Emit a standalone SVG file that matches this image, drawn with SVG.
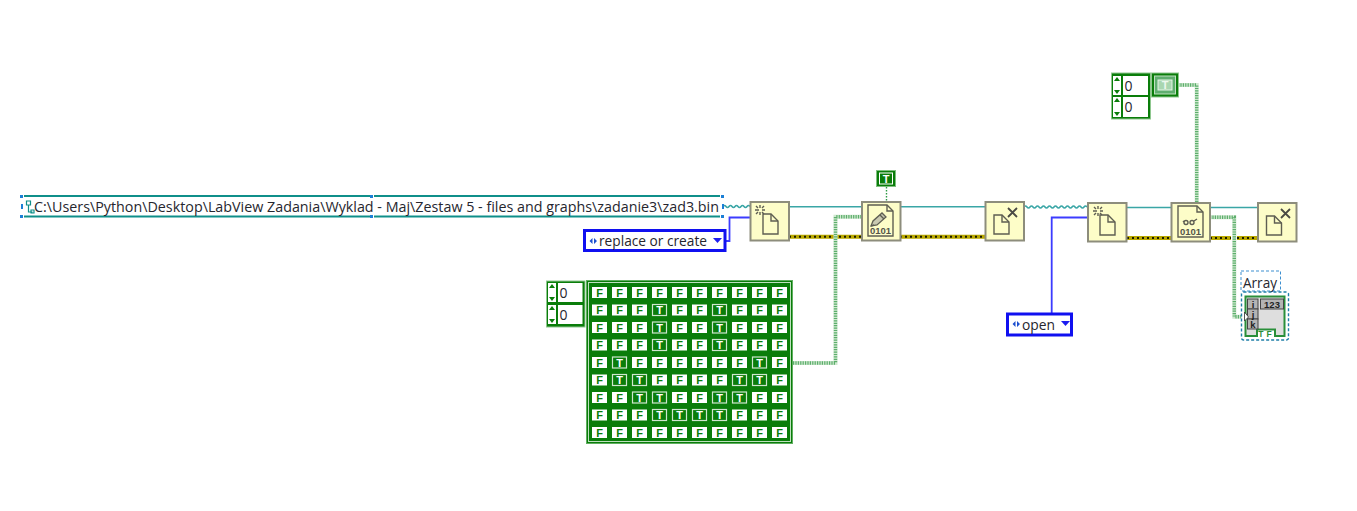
<svg xmlns="http://www.w3.org/2000/svg" width="1357" height="511" viewBox="0 0 1357 511">
<style>
.lbl{font-family:"Open Sans","Noto Sans","Liberation Sans",sans-serif;fill:#26262e}
.cell{font-family:"Liberation Sans",Arial,sans-serif;font-weight:700;font-size:11px;text-anchor:middle}
.f rect{fill:#fff}.f text{fill:#0a7d0a}
.t rect{fill:#0a7d0a;stroke:#cfe6cf;stroke-width:1.2}.t text{fill:#fff}
.fn{fill:#fdfdc8;stroke:#8d8d7c;stroke-width:2}
.ic{fill:none;stroke:#5e5e52;stroke-width:1.4}
.icf{fill:#fdfdc8;stroke:#5e5e52;stroke-width:1.4}
.bit{font-family:"Liberation Sans",Arial,sans-serif;font-size:9.500px;font-weight:700;fill:#55554a;text-anchor:middle}
.g1{fill:none;stroke:#cfe8cf;stroke-width:4}
.g2{fill:none;stroke:#5cae6c;stroke-width:3.4;stroke-dasharray:1.2 1.2}
.er1{fill:none;stroke:#b9a800;stroke-width:4}
.er2{fill:none;stroke:#1a1a00;stroke-width:2;stroke-dasharray:2 3}
.teal{fill:none;stroke:#3aa6a6;stroke-width:1.6}
.blue{fill:none;stroke:#3c3cff;stroke-width:1.8}
.arr{fill:#0a7d0a}
</style>
<g id="connectors">
<path class="teal" d="M723 206.500q1.500-2 3 0t3 0t3 0t3 0t3 0t3 0t3 0t3 0t3 0"/>
<path class="teal" d="M789 206.700H862M900 206.700H985"/>
<path class="teal" d="M1024 207q1.500-2 3 0t3 0t3 0t3 0t3 0t3 0t3 0t3 0t3 0t3 0t3 0t3 0t3 0t3 0t3 0t3 0t3 0t3 0t3 0t3 0t3 0"/>
<path class="teal" d="M1127 207.500H1171M1210 207.500H1258"/>
<path class="blue" d="M726 241H729.500V217.500H750"/>
<path class="blue" d="M1051.700 313V217.500H1088"/>
<path class="er1" d="M789 236.700H862M900 236.700H985"/>
<path class="er2" d="M789 236.700H862M900 236.700H985"/>
<path class="er1" d="M1127 238H1171M1210 238H1231M1237 238H1258"/>
<path class="er2" d="M1127 238H1171M1210 238H1231M1237 238H1258"/>
<path class="g1" d="M793 363H835.500V216.700H862"/>
<path class="g2" d="M793 363H835.500V216.700H862"/>
<path class="g1" d="M1178 85H1196.700V203"/>
<path class="g2" d="M1178 85H1196.700V203"/>
<path class="g1" d="M1210 217.300H1234.300V316.700H1246"/>
<path class="g2" d="M1210 217.300H1234.300V316.700H1246"/>
<path d="M886.500 187V202" fill="none" stroke="#2f9a45" stroke-width="1.400" stroke-dasharray="1.500 1.500"/>
</g>
<g id="path-constant">
<rect x="22" y="195" width="700" height="22.500" fill="#fff"/>
<path d="M24 196H370M374 196H720M24 216.500H370M374 216.500H720" fill="none" stroke="#0f8f8a" stroke-width="2"/>
<g fill="#1c7fd6"><rect x="20" y="195" width="3" height="3"/><rect x="20" y="215" width="3" height="3"/><rect x="370" y="195" width="3" height="3"/><rect x="370" y="215" width="3" height="3"/><rect x="721" y="195" width="3" height="3"/><rect x="721" y="215" width="3" height="3"/><rect x="21" y="204" width="2" height="5"/><rect x="722" y="204" width="2" height="5"/></g>
<path d="M26.500 201h4v4h-4zM28.500 205v7h4M31 210h3v3h-3z" fill="none" stroke="#0f8f8a" stroke-width="1.200"/>
<text class="lbl" x="34" y="212" font-size="14" textLength="685" lengthAdjust="spacingAndGlyphs">C:\Users\Python\Desktop\LabView Zadania\Wyklad - Maj\Zestaw 5 - files and graphs\zadanie3\zad3.bin</text>
</g>
<g id="enum-replace">
<rect x="584.500" y="230.500" width="140.500" height="20" fill="#fff" stroke="#1010f0" stroke-width="3"/>
<path d="M592.500 238v6l-3-3zM594 238v6l3-3z" fill="#1c4fd0"/>
<text class="lbl" x="599" y="246" font-size="14" textLength="108" lengthAdjust="spacingAndGlyphs">replace or create</text>
<path d="M713 238h9l-4.500 5z" fill="#1c1cf0"/>
</g>
<g id="enum-open">
<rect x="1007.500" y="314" width="64" height="21" fill="#fff" stroke="#1010f0" stroke-width="3"/>
<path d="M1015.500 321v6l-3-3zM1017 321v6l3-3z" fill="#1c4fd0"/>
<text class="lbl" x="1022" y="330" font-size="14" textLength="33" lengthAdjust="spacingAndGlyphs">open</text>
<path d="M1061 321h9l-4.500 5z" fill="#1c1cf0"/>
</g>
<g id="open-file-1">
<rect class="fn" x="750.500" y="202" width="38.500" height="38.500"/>
<path class="icf" d="M763 214h8l7 7v13h-15z"/><path class="ic" d="M771 214v7h7"/>
<path class="ic" d="M755 210h4M762 210h3M760 205v3M760 212v3M756 206l2 2M764 206l-2 2M756 214l2-2M764 214l-2-2" stroke-width="1"/>
</g>
<g id="write-file">
<rect class="fn" x="862" y="202" width="38.500" height="38.500"/>
<path class="icf" d="M868 205h19l6 6v25h-25z"/><path class="ic" d="M887 205v6h6"/>
<path d="M871 226l2-5 9-8 4 4-9 8z" fill="#c9c9b0" stroke="#5e5e52" stroke-width="1.300"/><path class="ic" d="M880 215l4 4M871 226l3-1"/>
<text class="bit" x="880.500" y="234">0101</text>
</g>
<g id="close-file-1">
<rect class="fn" x="985.500" y="202" width="38.500" height="38.500"/>
<path class="icf" d="M994 215h8l7 7v12h-15z"/><path class="ic" d="M1002 215v7h7"/>
<path d="M1008 208l9 9M1017 208l-9 9" fill="none" stroke="#4a4a44" stroke-width="1.800"/>
</g>
<g id="open-file-2">
<rect class="fn" x="1088" y="203" width="38.500" height="38.500"/>
<path class="icf" d="M1100 215h8l7 7v13h-15z"/><path class="ic" d="M1108 215v7h7"/>
<path class="ic" d="M1093 211h4M1100 211h3M1098 206v3M1098 213v3M1094 207l2 2M1102 207l-2 2M1094 215l2-2M1102 215l-2-2" stroke-width="1"/>
</g>
<g id="read-file">
<rect class="fn" x="1171.500" y="203" width="38.500" height="38.500"/>
<path class="icf" d="M1178 206h19l6 6v25h-25z"/><path class="ic" d="M1197 206v6h6"/>
<circle class="ic" cx="1186" cy="222.500" r="2" stroke-width="1"/><circle class="ic" cx="1192" cy="222.500" r="2" stroke-width="1"/><path class="ic" d="M1194 221l3-2M1184 221l-1 1" stroke-width="1"/>
<text class="bit" x="1190.500" y="235">0101</text>
</g>
<g id="close-file-2">
<rect class="fn" x="1258" y="203" width="38.500" height="38.500"/>
<path class="icf" d="M1266.500 216h8l7 7v12h-15z"/><path class="ic" d="M1274.500 216v7h7"/>
<path d="M1281 209l9 9M1290 209l-9 9" fill="none" stroke="#4a4a44" stroke-width="1.800"/>
</g>
<g id="true-constant">
<rect x="876.500" y="170.500" width="19" height="16" fill="#0a7d0a" stroke="#7fbf7f"/>
<rect x="879.500" y="173" width="13" height="11" fill="#0a7d0a" stroke="#fff"/>
<text class="cell" x="886" y="182.500" fill="#fff">T</text>
</g>
<g id="array-index-1">
<rect x="546.500" y="281" width="38.500" height="46" fill="#0a7d0a" stroke="#8fc78f"/>
<rect x="548" y="283" width="8" height="19" fill="#fff"/><rect x="548" y="305" width="8" height="19" fill="#fff"/>
<path class="arr" d="M552 284l3 4h-6zM552 301l3-4h-6zM552 306l3 4h-6zM552 323l3-4h-6z"/>
<rect x="558" y="283" width="24.500" height="19" fill="#fff"/><rect x="558" y="305" width="24.500" height="19" fill="#fff"/>
<text class="lbl" x="559.500" y="298" font-size="14">0</text>
<text class="lbl" x="559.500" y="320" font-size="14">0</text>
</g>
<g id="array-constant">
<rect x="586.500" y="280.500" width="206" height="163" fill="#0a7d0a" stroke="#5fae5f"/>
<rect x="588.500" y="282.500" width="202" height="159" fill="none" stroke="#bfe0bf"/>
<g class="cell">
<g class="f"><rect x="592" y="287" width="15" height="11"/><text x="599.500" y="296.500">F</text><rect x="612" y="287" width="15" height="11"/><text x="619.500" y="296.500">F</text><rect x="632" y="287" width="15" height="11"/><text x="639.500" y="296.500">F</text><rect x="652" y="287" width="15" height="11"/><text x="659.500" y="296.500">F</text><rect x="672" y="287" width="15" height="11"/><text x="679.500" y="296.500">F</text><rect x="692" y="287" width="15" height="11"/><text x="699.500" y="296.500">F</text><rect x="712" y="287" width="15" height="11"/><text x="719.500" y="296.500">F</text><rect x="732" y="287" width="15" height="11"/><text x="739.500" y="296.500">F</text><rect x="752" y="287" width="15" height="11"/><text x="759.500" y="296.500">F</text><rect x="772" y="287" width="15" height="11"/><text x="779.500" y="296.500">F</text></g>
<g class="f"><rect x="592" y="304.500" width="15" height="11"/><text x="599.500" y="314">F</text><rect x="612" y="304.500" width="15" height="11"/><text x="619.500" y="314">F</text><rect x="632" y="304.500" width="15" height="11"/><text x="639.500" y="314">F</text><rect x="672" y="304.500" width="15" height="11"/><text x="679.500" y="314">F</text><rect x="692" y="304.500" width="15" height="11"/><text x="699.500" y="314">F</text><rect x="732" y="304.500" width="15" height="11"/><text x="739.500" y="314">F</text><rect x="752" y="304.500" width="15" height="11"/><text x="759.500" y="314">F</text><rect x="772" y="304.500" width="15" height="11"/><text x="779.500" y="314">F</text></g>
<g class="t"><rect x="652.500" y="304.500" width="14" height="11"/><text x="659.500" y="314">T</text><rect x="712.500" y="304.500" width="14" height="11"/><text x="719.500" y="314">T</text></g>
<g class="f"><rect x="592" y="322" width="15" height="11"/><text x="599.500" y="331.500">F</text><rect x="612" y="322" width="15" height="11"/><text x="619.500" y="331.500">F</text><rect x="632" y="322" width="15" height="11"/><text x="639.500" y="331.500">F</text><rect x="672" y="322" width="15" height="11"/><text x="679.500" y="331.500">F</text><rect x="692" y="322" width="15" height="11"/><text x="699.500" y="331.500">F</text><rect x="732" y="322" width="15" height="11"/><text x="739.500" y="331.500">F</text><rect x="752" y="322" width="15" height="11"/><text x="759.500" y="331.500">F</text><rect x="772" y="322" width="15" height="11"/><text x="779.500" y="331.500">F</text></g>
<g class="t"><rect x="652.500" y="322" width="14" height="11"/><text x="659.500" y="331.500">T</text><rect x="712.500" y="322" width="14" height="11"/><text x="719.500" y="331.500">T</text></g>
<g class="f"><rect x="592" y="339.500" width="15" height="11"/><text x="599.500" y="349">F</text><rect x="612" y="339.500" width="15" height="11"/><text x="619.500" y="349">F</text><rect x="632" y="339.500" width="15" height="11"/><text x="639.500" y="349">F</text><rect x="672" y="339.500" width="15" height="11"/><text x="679.500" y="349">F</text><rect x="692" y="339.500" width="15" height="11"/><text x="699.500" y="349">F</text><rect x="732" y="339.500" width="15" height="11"/><text x="739.500" y="349">F</text><rect x="752" y="339.500" width="15" height="11"/><text x="759.500" y="349">F</text><rect x="772" y="339.500" width="15" height="11"/><text x="779.500" y="349">F</text></g>
<g class="t"><rect x="652.500" y="339.500" width="14" height="11"/><text x="659.500" y="349">T</text><rect x="712.500" y="339.500" width="14" height="11"/><text x="719.500" y="349">T</text></g>
<g class="f"><rect x="592" y="357" width="15" height="11"/><text x="599.500" y="366.500">F</text><rect x="632" y="357" width="15" height="11"/><text x="639.500" y="366.500">F</text><rect x="652" y="357" width="15" height="11"/><text x="659.500" y="366.500">F</text><rect x="672" y="357" width="15" height="11"/><text x="679.500" y="366.500">F</text><rect x="692" y="357" width="15" height="11"/><text x="699.500" y="366.500">F</text><rect x="712" y="357" width="15" height="11"/><text x="719.500" y="366.500">F</text><rect x="732" y="357" width="15" height="11"/><text x="739.500" y="366.500">F</text><rect x="772" y="357" width="15" height="11"/><text x="779.500" y="366.500">F</text></g>
<g class="t"><rect x="612.500" y="357" width="14" height="11"/><text x="619.500" y="366.500">T</text><rect x="752.500" y="357" width="14" height="11"/><text x="759.500" y="366.500">T</text></g>
<g class="f"><rect x="592" y="374.500" width="15" height="11"/><text x="599.500" y="384">F</text><rect x="652" y="374.500" width="15" height="11"/><text x="659.500" y="384">F</text><rect x="672" y="374.500" width="15" height="11"/><text x="679.500" y="384">F</text><rect x="692" y="374.500" width="15" height="11"/><text x="699.500" y="384">F</text><rect x="712" y="374.500" width="15" height="11"/><text x="719.500" y="384">F</text><rect x="772" y="374.500" width="15" height="11"/><text x="779.500" y="384">F</text></g>
<g class="t"><rect x="612.500" y="374.500" width="14" height="11"/><text x="619.500" y="384">T</text><rect x="632.500" y="374.500" width="14" height="11"/><text x="639.500" y="384">T</text><rect x="732.500" y="374.500" width="14" height="11"/><text x="739.500" y="384">T</text><rect x="752.500" y="374.500" width="14" height="11"/><text x="759.500" y="384">T</text></g>
<g class="f"><rect x="592" y="392" width="15" height="11"/><text x="599.500" y="401.500">F</text><rect x="612" y="392" width="15" height="11"/><text x="619.500" y="401.500">F</text><rect x="672" y="392" width="15" height="11"/><text x="679.500" y="401.500">F</text><rect x="692" y="392" width="15" height="11"/><text x="699.500" y="401.500">F</text><rect x="752" y="392" width="15" height="11"/><text x="759.500" y="401.500">F</text><rect x="772" y="392" width="15" height="11"/><text x="779.500" y="401.500">F</text></g>
<g class="t"><rect x="632.500" y="392" width="14" height="11"/><text x="639.500" y="401.500">T</text><rect x="652.500" y="392" width="14" height="11"/><text x="659.500" y="401.500">T</text><rect x="712.500" y="392" width="14" height="11"/><text x="719.500" y="401.500">T</text><rect x="732.500" y="392" width="14" height="11"/><text x="739.500" y="401.500">T</text></g>
<g class="f"><rect x="592" y="409.500" width="15" height="11"/><text x="599.500" y="419">F</text><rect x="612" y="409.500" width="15" height="11"/><text x="619.500" y="419">F</text><rect x="632" y="409.500" width="15" height="11"/><text x="639.500" y="419">F</text><rect x="732" y="409.500" width="15" height="11"/><text x="739.500" y="419">F</text><rect x="752" y="409.500" width="15" height="11"/><text x="759.500" y="419">F</text><rect x="772" y="409.500" width="15" height="11"/><text x="779.500" y="419">F</text></g>
<g class="t"><rect x="652.500" y="409.500" width="14" height="11"/><text x="659.500" y="419">T</text><rect x="672.500" y="409.500" width="14" height="11"/><text x="679.500" y="419">T</text><rect x="692.500" y="409.500" width="14" height="11"/><text x="699.500" y="419">T</text><rect x="712.500" y="409.500" width="14" height="11"/><text x="719.500" y="419">T</text></g>
<g class="f"><rect x="592" y="427" width="15" height="11"/><text x="599.500" y="436.500">F</text><rect x="612" y="427" width="15" height="11"/><text x="619.500" y="436.500">F</text><rect x="632" y="427" width="15" height="11"/><text x="639.500" y="436.500">F</text><rect x="652" y="427" width="15" height="11"/><text x="659.500" y="436.500">F</text><rect x="672" y="427" width="15" height="11"/><text x="679.500" y="436.500">F</text><rect x="692" y="427" width="15" height="11"/><text x="699.500" y="436.500">F</text><rect x="712" y="427" width="15" height="11"/><text x="719.500" y="436.500">F</text><rect x="732" y="427" width="15" height="11"/><text x="739.500" y="436.500">F</text><rect x="752" y="427" width="15" height="11"/><text x="759.500" y="436.500">F</text><rect x="772" y="427" width="15" height="11"/><text x="779.500" y="436.500">F</text></g>
</g>
</g>
<g id="array-index-2">
<rect x="1111.500" y="73" width="39" height="46" fill="#0a7d0a" stroke="#8fc78f"/>
<rect x="1113" y="76" width="8" height="19" fill="#fff"/><rect x="1113" y="97" width="8" height="20" fill="#fff"/>
<path class="arr" d="M1117 77l3 4h-6zM1117 94l3-4h-6zM1117 98l3 4h-6zM1117 116l3-4h-6z"/>
<rect x="1123" y="76" width="25" height="19" fill="#fff"/><rect x="1123" y="97" width="25" height="20" fill="#fff"/>
<text class="lbl" x="1124.500" y="91" font-size="14">0</text>
<text class="lbl" x="1124.500" y="112" font-size="14">0</text>
</g>
<g id="bool-array-constant">
<rect x="1151.500" y="73" width="27" height="24" fill="#0a7d0a" stroke="#8fc78f"/>
<rect x="1154.500" y="76" width="21" height="18" fill="#5fae6f" stroke="#bfe0bf"/>
<rect x="1158" y="80" width="14" height="10" fill="#a9d6b0" stroke="#e6f4e6"/>
<text class="cell" x="1165" y="89" fill="#eef8ee">T</text>
</g>
<g id="array-indicator">
<rect x="1241" y="271" width="39.500" height="20" fill="#fff" stroke="#3c8fd0" stroke-dasharray="3 2"/>
<text class="lbl" x="1243" y="287.500" font-size="14" textLength="34" lengthAdjust="spacingAndGlyphs">Array</text>
<rect x="1241.500" y="292" width="47" height="48" rx="2" fill="#fff" stroke="#1f7fa8" stroke-width="1.400" stroke-dasharray="3 2"/>
<path d="M1245.500 296.500H1284.500V336H1275V329.500H1257V336H1245.500Z" fill="#dedede" stroke="#2a8f3a" stroke-width="2"/>
<g fill="#b4b4b4" stroke="#444"><rect x="1247.500" y="299" width="10.500" height="10"/><rect x="1247.500" y="309" width="10.500" height="10"/><rect x="1247.500" y="319" width="10.500" height="10"/><rect x="1260.500" y="299" width="23" height="10"/></g>
<g font-family="Liberation Sans,Arial,sans-serif" font-size="9.500" font-weight="700" fill="#222" text-anchor="middle"><text x="1253" y="307.500">i</text><text x="1253" y="317.500">j</text><text x="1253" y="327.500">k</text><text x="1272" y="307.500">123</text></g>
<text x="1266.500" y="337" font-family="Liberation Sans,Arial,sans-serif" font-size="8.500" font-weight="700" fill="#2a8f3a" text-anchor="middle" letter-spacing="3">TF</text>
<path d="M1244.500 312l4 5-4 4z" fill="#fff" stroke="#333" stroke-width=".8"/>
</g>
</svg>
